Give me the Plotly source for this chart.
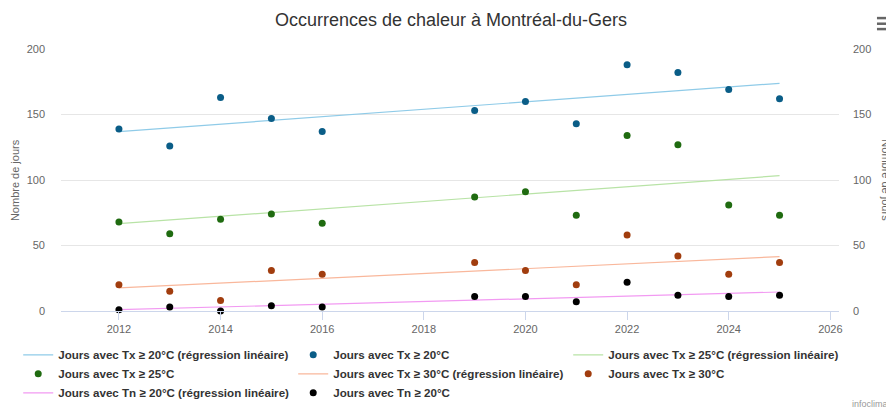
import plotly.graph_objects as go

FONT = "Liberation Sans, Arial, Helvetica, sans-serif"
TEXT = "#333333"
AXIS_TEXT = "#666666"
GRID = "#e6e6e6"
AXIS_LINE = "#ccd6eb"

# data
years = [2012, 2013, 2014, 2015, 2016, 2019, 2020, 2021, 2022, 2023, 2024, 2025]
tx20 = [139, 126, 163, 147, 137, 153, 160, 143, 188, 182, 169, 162]
tx25 = [68, 59, 70, 74, 67, 87, 91, 73, 134, 127, 81, 73]
tx30 = [20, 15, 8, 31, 28, 37, 31, 20, 58, 42, 28, 37]
tn20 = [1, 3, 0, 4, 3, 11, 11, 7, 22, 12, 11, 12]

reg_years = [2012, 2025]
reg_tx20 = [137.0, 173.8]
reg_tx25 = [66.7, 103.3]
reg_tx30 = [17.6, 41.5]
reg_tn20 = [1.0, 14.5]

series = [
    ("Jours avec Tx ≥ 20°C", tx20, reg_tx20, "#8fcbe8", "#0a5d87"),
    ("Jours avec Tx ≥ 25°C", tx25, reg_tx25, "#b8e3a6", "#1f6b10"),
    ("Jours avec Tx ≥ 30°C", tx30, reg_tx30, "#f9b79b", "#a13d0e"),
    ("Jours avec Tn ≥ 20°C", tn20, reg_tn20, "#f29af2", "#000000"),
]

fig = go.Figure()
for name, vals, reg, line_col, dot_col in series:
    fig.add_trace(go.Scatter(
        x=reg_years, y=reg, mode="lines",
        name=f"{name} (régression linéaire)",
        line=dict(color=line_col, width=1.2),
    ))
    fig.add_trace(go.Scatter(
        x=years, y=vals, mode="markers", name=name,
        marker=dict(color=dot_col, size=7),
        cliponaxis=False,
    ))

# invisible trace to drive the right-hand axis
fig.add_trace(go.Scatter(x=[2012], y=[0], yaxis="y2", showlegend=False,
                         mode="markers", marker=dict(opacity=0), hoverinfo="skip"))

# page body adds an 8px offset, so the figure is sized 8px smaller
fig.update_layout(
    width=886, height=403,
    paper_bgcolor="white", plot_bgcolor="white",
    font=dict(family=FONT, color=TEXT, size=12),
    margin=dict(l=53, r=55, t=41, b=100, autoexpand=False),
    title=dict(text="Occurrences de chaleur à Montréal-du-Gers",
               x=0.5, xanchor="center", y=0.97, yanchor="middle",
               font=dict(size=18, color=TEXT)),
    xaxis=dict(range=[2010.86, 2026.17], tickvals=list(range(2012, 2027, 2)),
               showgrid=False, zeroline=False, automargin=False,
               showline=True, linecolor=AXIS_LINE, linewidth=1,
               ticks="outside", ticklen=8, tickcolor=AXIS_LINE,
               tickfont=dict(size=11, color=AXIS_TEXT)),
    yaxis=dict(range=[0, 200], tickvals=[0, 50, 100, 150, 200],
               gridcolor=GRID, zeroline=False, showline=False, automargin=False,
               ticks="", ticklabelstandoff=15,
               tickfont=dict(size=11, color=AXIS_TEXT)),
    yaxis2=dict(range=[0, 200], tickvals=[0, 50, 100, 150, 200],
                overlaying="y", side="right", showgrid=False, zeroline=False,
                automargin=False, ticklabelstandoff=13,
                tickfont=dict(size=11, color=AXIS_TEXT)),
    legend=dict(orientation="h", x=-0.055, xanchor="left",
                y=-0.112, yanchor="top",
                entrywidth=230, entrywidthmode="pixels",
                font=dict(size=11.6, color=TEXT, weight="bold"),
                itemwidth=30, tracegroupgap=0),
    showlegend=True,
)

fig.add_annotation(text="Nombre de jours", textangle=-90, xref="paper", yref="paper",
                   x=-0.059, y=0.5, xanchor="center", showarrow=False,
                   font=dict(size=11, color=AXIS_TEXT))
fig.add_annotation(text="Nombre de jours", textangle=90, xref="paper", yref="paper",
                   x=1.06, y=0.5, xanchor="center", showarrow=False,
                   font=dict(size=11, color=AXIS_TEXT))
fig.add_annotation(text="infoclimat.fr", xref="paper", yref="paper",
                   x=1.0141, y=-0.355, xanchor="left", yanchor="middle", showarrow=False,
                   font=dict(size=9, color="#999999"))

# export menu icon (three bars)
for yy in (1.118, 1.0965, 1.076):
    fig.add_shape(type="line", xref="paper", yref="paper",
                  x0=1.0488, x1=1.0694, y0=yy, y1=yy,
                  line=dict(color="#666666", width=2.5))

fig.write_html("out.html")
